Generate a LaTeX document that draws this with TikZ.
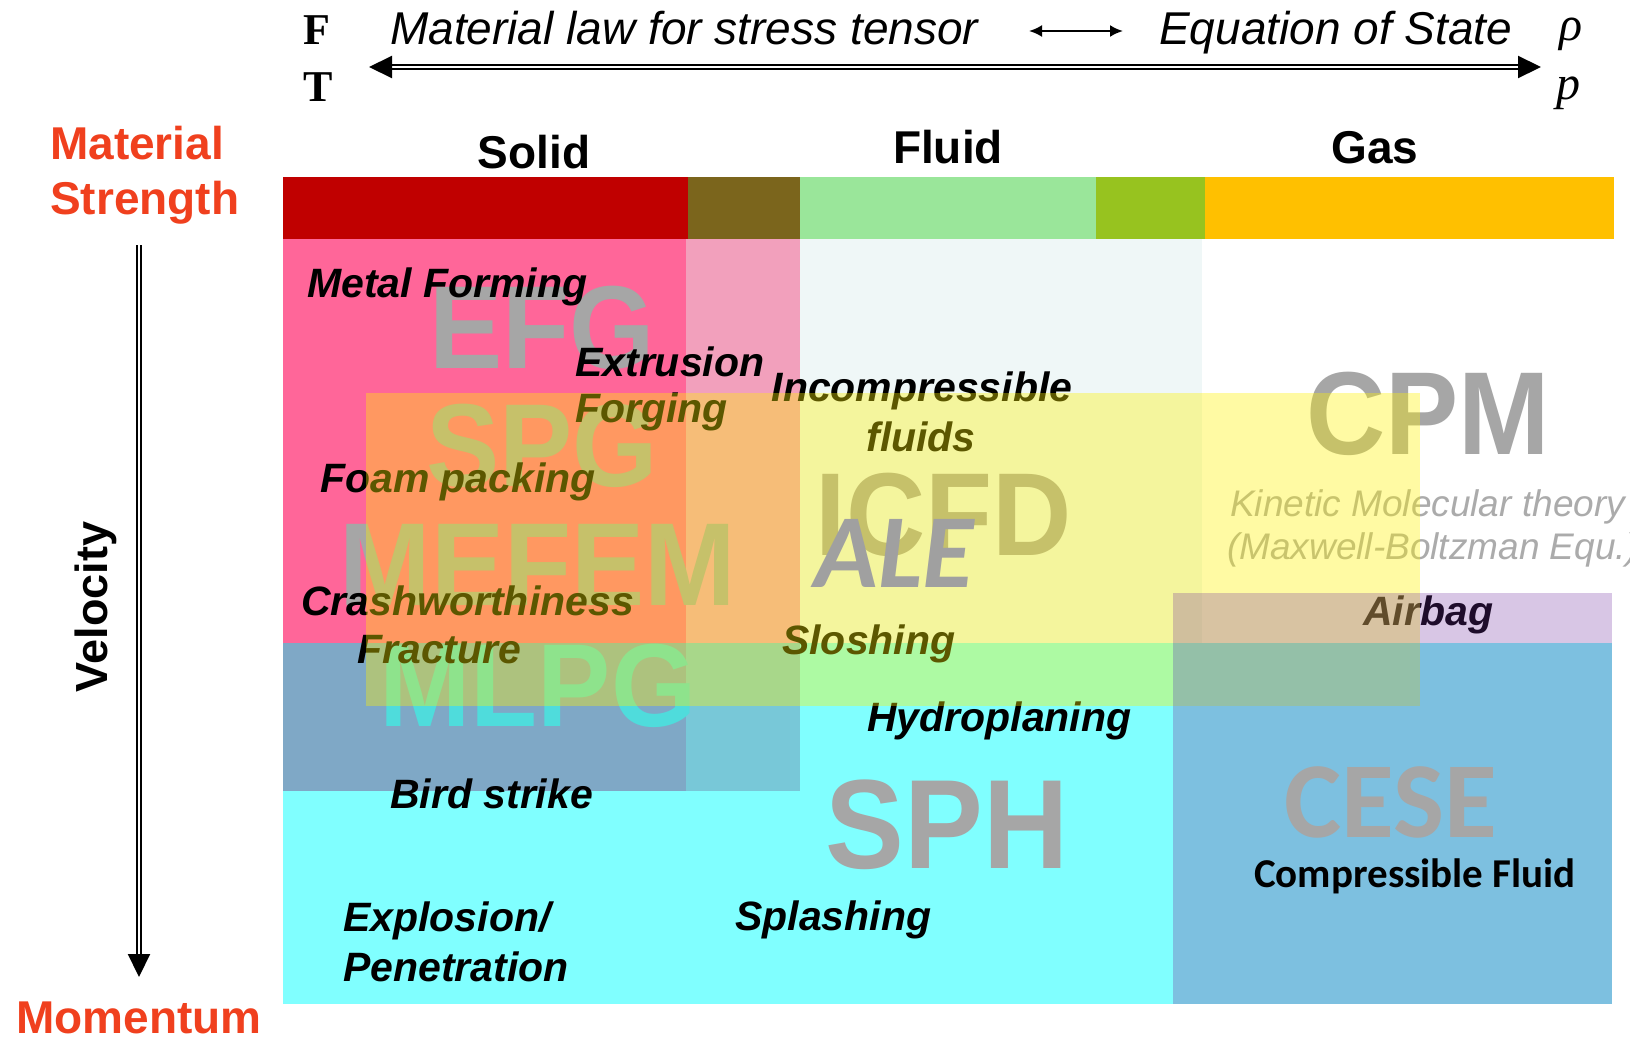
\documentclass[tikz,border=0pt]{standalone}
\usepackage{fontspec}
\setmainfont{Liberation Sans}
\newfontfamily\calibrifont{Carlito}
\newfontfamily\timesfont{Liberation Serif}
\newfontfamily\bigsans[FakeStretch=0.93]{Liberation Sans}
\usetikzlibrary{arrows.meta}

\definecolor{solidred}{HTML}{C00000}
\definecolor{solidolive}{HTML}{7B651C}
\definecolor{fluidgreen}{HTML}{9AE69A}
\definecolor{wetgreen}{HTML}{97C31F}
\definecolor{gasorange}{HTML}{FFC000}
\definecolor{axisred}{HTML}{F0401E}
\definecolor{pinkreg}{HTML}{FF6699}
\definecolor{pinklight}{HTML}{F2A0BC}
\definecolor{palereg}{HTML}{EFF7F7}
\definecolor{bluegray}{HTML}{7FA8C6}
\definecolor{tealreg}{HTML}{78C8D8}
\definecolor{cyanreg}{HTML}{80FFFF}
\definecolor{cesereg}{HTML}{7DC0E0}
\definecolor{bandblue}{HTML}{94C0A8}
\definecolor{methodgray}{HTML}{A6A6A6}
\definecolor{mlpgcyan}{HTML}{4FDCDC}
\definecolor{kineticgray}{HTML}{ABABAB}
\definecolor{alegray}{HTML}{A0A0A0}
\definecolor{airbagpurple}{HTML}{7030A0}

\begin{document}
\begin{tikzpicture}[x=1pt, y=-1pt,
    method/.style={font=\bigsans\bfseries\fontsize{118}{120}\selectfont, text=methodgray, inner sep=0pt},
    case/.style={font=\bfseries\itshape\fontsize{41}{46}\selectfont, inner sep=0pt, anchor=base west},
    phase/.style={font=\bfseries\fontsize{46}{50}\selectfont, inner sep=0pt, anchor=base},
    axis/.style={font=\bfseries\fontsize{46}{50}\selectfont, text=axisred, inner sep=0pt, anchor=base west},
    law/.style={font=\itshape\fontsize{46}{50}\selectfont, inner sep=0pt, anchor=base west},
    kinetic/.style={font=\itshape\fontsize{37}{40}\selectfont, text=kineticgray, inner sep=0pt, anchor=base west},
    dbl/.style={double, double distance=2.6pt, line width=2.1pt, >={Triangle[length=23pt, width=22pt]}}]

    \fill[white] (0,0) rectangle (1630,1039);
    \useasboundingbox (0,0) rectangle (1630,1039);

    % state bar
    \fill[solidred] (283,177) rectangle (688,239);
    \fill[solidolive] (688,177) rectangle (800,239);
    \fill[fluidgreen] (800,177) rectangle (1096,239);
    \fill[wetgreen] (1096,177) rectangle (1205,239);
    \fill[gasorange] (1205,177) rectangle (1614,239);

    % regions
    \fill[cyanreg] (283,643) rectangle (1173,1004);
    \fill[cesereg] (1173,643) rectangle (1612,1004);
    \fill[pinkreg] (283,239) rectangle (686,643);
    \fill[pinklight] (686,239) rectangle (800,643);
    \fill[palereg] (800,239) rectangle (1202,643);
    \fill[bluegray] (283,643) rectangle (686,791);
    \fill[tealreg] (686,643) rectangle (800,791);

    \node[method] (efg) at (542,328) {EFG};
    \node[method] (spg) at (542,446) {SPG};
    \node[method] (mefem) at (538,565) {MEFEM};
    \node[method, text=mlpgcyan] (mlpg) at (538,686) {MLPG};
    \node[method] (icfd) at (944,515) {ICFD};
    \node[method] (cpm) at (1428,414) {CPM};
    \node[method, font=\bigsans\bfseries\fontsize{127}{130}\selectfont] (sph) at (947,825) {SPH};
    \node[method, font=\calibrifont\bfseries\fontsize{108}{110}\selectfont] (cese) at (1391,802) {CESE};

    \node[kinetic] (kmt) at (1230,516) {Kinetic Molecular theory};
    \node[kinetic] (mbe) at (1227,559) {(Maxwell-Boltzman Equ.)};

    \node[case] (metal) at (307,297) {Metal Forming};
    \node[case] (extr) at (575,376) {Extrusion};
    \node[case] (forg) at (575,422) {Forging};
    \node[case, anchor=base] (incomp) at (922,401) {Incompressible};
    \node[case, anchor=base] (fluids) at (921,451) {fluids};
    \node[case] (foam) at (320,492) {Foam packing};
    \node[case] (crash) at (301,615) {Crashworthiness};
    \node[case] (fract) at (357,663) {Fracture};
    \node[case] (slosh) at (782,654) {Sloshing};
    \node[case] (hydro) at (867,731) {Hydroplaning};
    \node[case] (bird) at (390,808) {Bird strike};
    \node[case] (expl) at (343,931) {Explosion/};
    \node[case] (pene) at (343,981) {Penetration};
    \node[case] (splash) at (735,930) {Splashing};
    \node[case] (airbag) at (1363,625) {Airbag};

    % overlays
    \fill[yellow, opacity=0.36] (366,393) rectangle (1420,706);
    \fill[bandblue] (1173,643) rectangle (1420,706);
    \fill[airbagpurple, opacity=0.27] (1173,593) rectangle (1612,643);

    \node[method, font=\calibrifont\bfseries\itshape\fontsize{105}{110}\selectfont, text=alegray] (ale) at (894,553) {ALE};
    \node[font=\calibrifont\bfseries\fontsize{41}{44}\selectfont, inner sep=0pt, anchor=base] (compr) at (1415,887) {Compressible Fluid};

    \node[phase] (solid) at (534,168) {Solid};
    \node[phase] (fluid) at (948,163) {Fluid};
    \node[phase] (gas) at (1375,163) {Gas};

    \node[axis] (mat) at (50,159) {Material};
    \node[axis] (str) at (50,214) {Strength};
    \node[axis] (mom) at (16,1033) {Momentum};
    \node[font=\bfseries\fontsize{45}{48}\selectfont, inner sep=0pt, rotate=90] (vel) at (96,607) {Velocity};

    \node[font=\timesfont\bfseries\fontsize{44}{48}\selectfont, inner sep=0pt, anchor=base west] (F) at (303,44) {F};
    \node[font=\timesfont\bfseries\fontsize{44}{48}\selectfont, inner sep=0pt, anchor=base west] (T) at (303,101) {T};
    \node[font=\timesfont\itshape\fontsize{48}{50}\selectfont, inner sep=0pt, anchor=base west] (rho) at (1559,40) {ρ};
    \node[font=\timesfont\itshape\fontsize{48}{50}\selectfont, inner sep=0pt, anchor=base west] (p) at (1556,99) {p};

    \node[law] (matlaw) at (390,44) {Material law for stress tensor};
    \node[law] (eos) at (1159,44) {Equation of State};

    \coordinate (swapL) at (1029,31);
    \coordinate (swapR) at (1123,31);
    \draw[line width=2.2pt, {Latex[length=13pt, width=12pt]}-{Latex[length=13pt, width=12pt]}] (swapL) -- (swapR);

    \coordinate (lawL) at (369,67);
    \coordinate (lawR) at (1541,67);
    \draw[dbl, <->] (lawL) -- (lawR);

    \coordinate (velTop) at (139,245);
    \coordinate (velEnd) at (139,977);
    \draw[dbl, ->] (velTop) -- (velEnd);
\end{tikzpicture}
\end{document}
